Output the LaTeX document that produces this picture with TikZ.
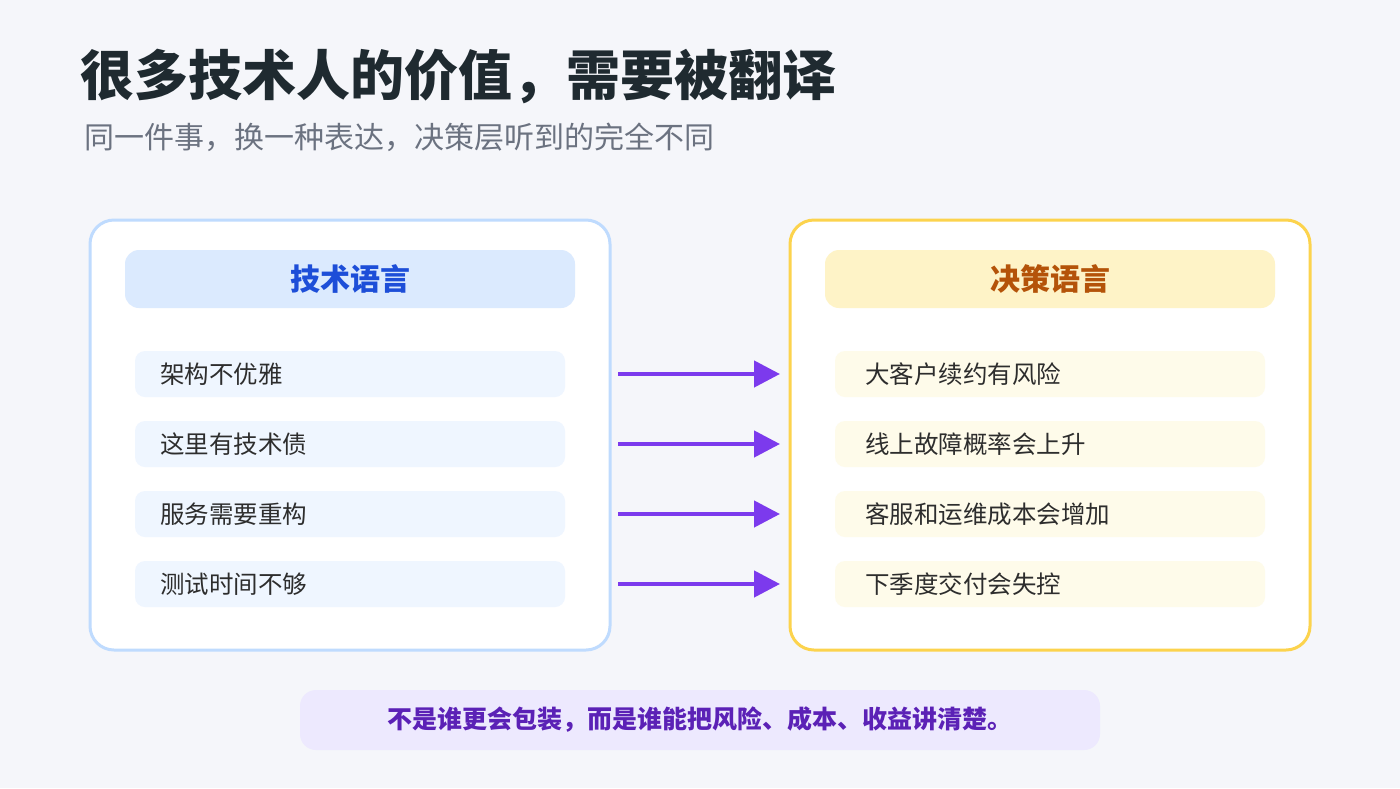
\documentclass[tikz,border=0pt]{standalone}
\usepackage{fontspec}
\setmainfont{Noto Sans CJK SC}
\usetikzlibrary{arrows.meta}
\definecolor{bg}{HTML}{F5F6FA}
\definecolor{ttl}{HTML}{1F2A30}
\definecolor{sub}{HTML}{6B7280}
\definecolor{lbd}{HTML}{BFDBFE}
\definecolor{lhd}{HTML}{DBEAFE}
\definecolor{ltx}{HTML}{1D4ED8}
\definecolor{lit}{HTML}{EFF6FF}
\definecolor{rbd}{HTML}{FCD34D}
\definecolor{rhd}{HTML}{FEF3C7}
\definecolor{rtx}{HTML}{B45309}
\definecolor{rit}{HTML}{FEFBEA}
\definecolor{arr}{HTML}{7C3AED}
\definecolor{bbg}{HTML}{EDE9FE}
\definecolor{btx}{HTML}{5B21B6}
\definecolor{itx}{HTML}{2D2D2D}
\begin{document}
\begin{tikzpicture}[x=1pt,y=-1pt,
  panel/.style={draw=#1,line width=3pt,fill=white,rounded corners=24pt},
  hdr/.style={fill=#1,rounded corners=14pt,minimum width=450pt,minimum height=58pt,inner sep=0pt},
  item/.style={fill=#1,rounded corners=10pt,minimum width=430pt,minimum height=46pt,inner sep=0pt},
  itxt/.style={anchor=west,font=\fontsize{24.5}{28}\selectfont,text=itx,inner sep=0pt},
  ar/.style={draw=arr,line width=4.5pt,-{Triangle[length=26pt,width=26pt]}}]
\fill[bg] (0,0) rectangle (1400,788);
\useasboundingbox (0,0) rectangle (1400,788);
\node[anchor=west,inner sep=0pt,text=ttl,font=\fontsize{54}{60}\selectfont\bfseries] (title) at (80,76) {很多技术人的价值，需要被翻译};
\node[anchor=west,inner sep=0pt,text=sub,font=\fontsize{30}{34}\selectfont] (subtitle) at (84,137) {同一件事，换一种表达，决策层听到的完全不同};
\draw[panel=lbd] (90,220) rectangle (610,650);
\draw[panel=rbd] (790,220) rectangle (1310,650);
\node[hdr=lhd,text=ltx,font=\fontsize{30}{34}\selectfont\bfseries] (lh) at (350,279) {技术语言};
\node[hdr=rhd,text=rtx,font=\fontsize{30}{34}\selectfont\bfseries] (rh) at (1050,279) {决策语言};
\foreach \i/\l/\r in {0/架构不优雅/大客户续约有风险,1/这里有技术债/线上故障概率会上升,2/服务需要重构/客服和运维成本会增加,3/测试时间不够/下季度交付会失控}{
  \node[item=lit] (L\i) at (350,374+70*\i) {};
  \node[itxt] (LT\i) at (160,374+70*\i) {\l};
  \node[item=rit] (R\i) at (1050,374+70*\i) {};
  \node[itxt] (RT\i) at (865,374+70*\i) {\r};
  \coordinate (A\i) at (618,374+70*\i);
  \coordinate (B\i) at (780,374+70*\i);
  \draw[ar] (A\i) -- (B\i);
}
\node[fill=bbg,rounded corners=16pt,minimum width=800pt,minimum height=60pt,inner sep=0pt,text=btx,font=\fontsize{25}{28}\selectfont\bfseries] (foot) at (700,720) {不是谁更会包装，而是谁能把风险、成本、收益讲清楚。};
\end{tikzpicture}
\end{document}
